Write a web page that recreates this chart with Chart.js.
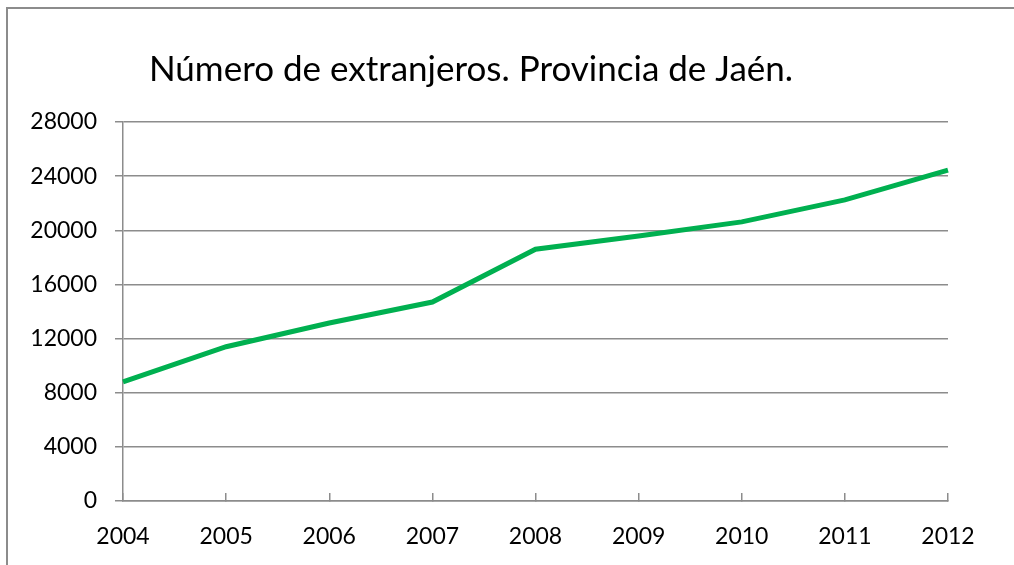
<!DOCTYPE html>
<html>
<head>
<meta charset="utf-8">
<script src="https://cdn.jsdelivr.net/npm/chart.js@4"></script>
<style>
    html, body { margin: 0; padding: 0; background: #fff; overflow: hidden; }
    canvas { display: block; }
</style>
</head>
<body>
<canvas id="lineChart" width="1014" height="565"></canvas>
<script>
var years = ["2004", "2005", "2006", "2007", "2008", "2009", "2010", "2011", "2012"];
var extranjeros = [8800, 11400, 13150, 14700, 18600, 19580, 20620, 22250, 24450];
var yTicks = [0, 4000, 8000, 12000, 16000, 20000, 24000, 28000];
var titulo = "Número de extranjeros. Provincia de Jaén.";

// marco (solo izquierda y arriba) y título
var marcoPlugin = {
    id: 'marcoPlugin',
    beforeDraw: function (chart) {
        var ctx = chart.ctx;
        ctx.save();
        ctx.strokeStyle = '#8c8c8c';
        ctx.lineWidth = 2;
        ctx.beginPath();
        ctx.moveTo(7, chart.height);
        ctx.lineTo(7, 8);
        ctx.lineTo(chart.width, 8);
        ctx.stroke();
        ctx.restore();
    },
    afterDraw: function (chart) {
        var ctx = chart.ctx;
        ctx.save();
        ctx.font = '35px Lato';
        ctx.fillStyle = '#000';
        ctx.textAlign = 'center';
        ctx.textBaseline = 'middle';
        ctx.fillText(titulo, 471, 70);
        ctx.restore();
    }
};

var ctx = document.getElementById("lineChart").getContext("2d");
new Chart(ctx, {
    type: 'line',
    data: {
        labels: years,
        datasets: [{
            label: "Extranjeros",
            data: extranjeros,
            borderColor: '#00b050',
            backgroundColor: '#00b050',
            borderWidth: 5,
            pointRadius: 0,
            tension: 0,
            fill: false
        }]
    },
    options: {
        responsive: false,
        animation: false,
        layout: { padding: { left: 0, right: 66, top: 122, bottom: 0 } },
        plugins: {
            legend: { display: false },
            title: { display: false },
            tooltip: { enabled: false }
        },
        scales: {
            x: {
                offset: false,
                grid: { display: true, drawOnChartArea: false, tickLength: -8, color: '#8c8c8c', lineWidth: 1.5 },
                border: { display: true, color: '#8c8c8c', width: 1.5 },
                ticks: { color: '#000', font: { family: 'Lato', size: 23 }, padding: 30, maxRotation: 0 },
                afterFit: function (s) { s.height = 64; }
            },
            y: {
                min: 0,
                max: 28000,
                afterBuildTicks: function (s) { s.ticks = yTicks.map(function (v) { return { value: v }; }); },
                grid: { color: '#8c8c8c', lineWidth: 1.5, tickLength: 8 },
                border: { display: true, color: '#8c8c8c', width: 1.5 },
                ticks: {
                    color: '#000',
                    font: { family: 'Lato', size: 23 },
                    padding: 18,
                    callback: function (v) { return String(v); }
                },
                afterFit: function (s) { s.width = 123; }
            }
        }
    },
    plugins: [marcoPlugin]
});
</script>
</body>
</html>
